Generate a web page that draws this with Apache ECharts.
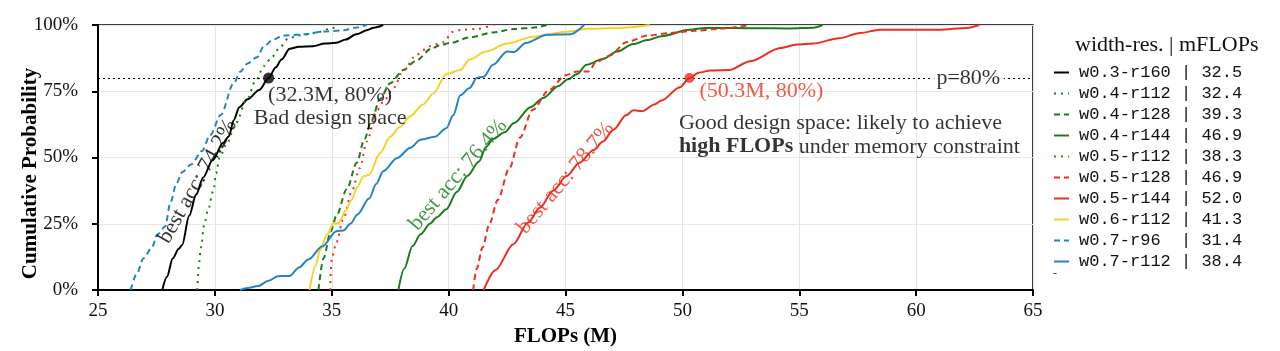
<!DOCTYPE html>
<html>
<head>
<meta charset="utf-8">
<script src="https://cdn.jsdelivr.net/npm/echarts@6/dist/echarts.min.js"></script>
<style>
  html, body { margin: 0; padding: 0; background: #fff; }
  #chart { width: 1280px; height: 351px; }
</style>
</head>
<body>
<div id="chart"></div>
<script>
// legend entries: name + mFLOPs
var names  = ['w0.3-r160', 'w0.4-r112', 'w0.4-r128', 'w0.4-r144', 'w0.5-r112',
              'w0.5-r128', 'w0.5-r144', 'w0.6-r112', 'w0.7-r96', 'w0.7-r112'];
var mflops = ['32.5', '32.4', '39.3', '46.9', '38.3', '46.9', '52.0', '41.3', '31.4', '38.4'];
var colors = ['#000000', '#1a7d1a', '#1a7d1a', '#1a7d1a', '#ec2f1e',
              '#ec2f1e', '#ec2f1e', '#f6d129', '#2284c6', '#2284c6'];
var dash = 'dashed', dot = 'dotted', solid = 'solid';
var styles = [solid, dot, dash, solid, dot, dash, solid, solid, dash, solid];

var xTicks = [25, 30, 35, 40, 45, 50, 55, 60, 65];
var yTicks = [0, 25, 50, 75, 100];

// CDF curves [FLOPs (M), cumulative %]
var w03r160 = [[27.75,0],[27.95,5],[28.2,12],[28.45,15.5],[28.6,17],[28.9,28],[29.2,36],[29.5,42.5],[29.9,49],
  [30.35,55.5],[30.6,58],[30.8,64],[31.05,69],[31.4,72],[31.9,75.5],[32.3,80],[32.6,84],[32.85,87],[33.2,91],
  [33.6,91.8],[34.2,92],[34.7,93],[35.2,93.3],[35.6,94.5],[36.05,96.5],[36.5,98],[36.8,99],[37.2,100]];
var w04r112 = [[29.25,0],[29.32,10],[29.4,16],[29.55,25],[29.7,30],[29.95,38],[30.05,44],[30.2,50],[30.5,55],
  [30.9,63],[31.35,71.5],[31.75,79],[32.1,84.5],[32.45,88],[32.8,91.8],[33.15,95],[33.6,96],[34.3,97],[34.9,98.5],[35.3,100]];
var w04r128 = [[34.43,0],[34.65,12],[34.95,22],[35.2,28],[35.64,38],[36.07,48],[36.4,57],[36.7,64],[37.06,72],
  [37.5,78],[38.06,83],[38.6,86.5],[39.25,91],[39.6,92.3],[40.06,93.2],[40.9,95.3],[41.9,97.2],[42.8,98.5],[43.6,99],[44.2,100]];
var w04r144 = [[37.85,0],[38.1,8],[38.45,16.5],[38.8,21],[39.2,25],[39.5,27.5],[39.9,30.5],[40.35,37],[40.8,43],
  [41.3,48.5],[41.6,54],[41.9,57],[42.4,59.5],[42.8,63],[43.5,69],[44.05,72.5],[44.7,77],[45.1,79.5],[45.5,81.5],
  [45.9,85],[46.6,87.2],[47.2,90],[47.9,92.8],[48.5,94.3],[49.1,95.8],[50.3,98.2],[51.0,98.9],[53.0,98.8],
  [54.6,98.7],[55.6,99],[56.0,100]];
var w05r112 = [[34.93,0],[35.0,12],[35.2,18],[35.5,27],[35.85,37],[36.2,46],[36.5,56],[36.92,67.5],[37.2,71],
  [37.63,76],[38.06,83],[38.63,88.8],[39.2,92],[39.77,93.5],[40.2,97.5],[40.6,98.3],[41.2,98.5],[41.9,100]];
var w05r128 = [[41.05,0],[41.2,8],[41.45,16],[41.75,25],[42.1,34],[42.6,46],[43.05,57.5],[43.6,68],[44.3,75.5],
  [45.0,81],[45.5,82.5],[46.0,82.5],[46.3,86],[46.9,88.5],[47.6,93.5],[48.5,96],[49.5,97],[50.5,97.8],[51.5,98.5],[52.9,100]];
var w05r144 = [[41.5,0],[42.0,7.5],[42.77,17.3],[43.4,25.5],[43.9,31],[44.47,37.5],[45.05,43],[45.6,48],[46.2,52.8],
  [46.6,56],[47.05,60.5],[47.6,66],[47.9,67.8],[48.3,67.5],[48.8,70],[49.1,71.5],[49.9,76.5],[50.3,80],[50.7,82],
  [51.2,82.8],[52.0,83],[52.9,86.3],[54.2,91.3],[54.9,92.6],[55.6,93],[56.7,95],[57.6,97],[58.45,98.2],[61.0,98.2],
  [62.16,98.9],[62.7,100]];
var w06r112 = [[34.05,0],[34.3,9],[34.5,15],[34.8,21],[35.07,25],[35.3,25.3],[35.6,30],[35.85,34],[36.1,39],
  [36.35,42.8],[36.6,43.5],[37.06,51.6],[37.5,57.8],[37.9,61.5],[38.35,65.5],[38.9,70],[39.35,74.2],[39.9,81.5],
  [40.5,83],[40.9,87],[41.6,90],[42.5,93],[43.6,95.6],[45.05,97.5],[46.0,98.6],[47.5,99],[48.6,100]];
var w07r96 = [[26.4,0],[26.65,6],[26.95,12],[27.3,16],[27.55,21],[27.87,24],[28.1,33],[28.35,40],[28.6,44.5],
  [29.0,47.5],[29.45,52.5],[29.8,58.5],[30.25,66],[30.8,78],[31.1,82.5],[31.4,85.5],[31.8,87.8],[32.1,92],
  [32.5,94.5],[32.9,96],[33.8,96.5],[34.6,97.5],[35.5,98],[36.0,99],[36.5,100]];
var w07r112 = [[31.07,0],[31.4,0.8],[31.85,1.5],[32.3,3.5],[32.7,5.2],[33.2,5.3],[33.6,8.5],[34.0,11.5],[34.6,16.5],
  [35.2,22.2],[35.5,22.5],[35.8,25],[36.1,28.5],[36.6,34.5],[36.9,40],[37.2,44.8],[37.8,49.8],[38.35,53.6],
  [38.8,56.7],[39.4,57.8],[39.9,61],[40.2,66],[40.5,73.5],[40.9,76.2],[41.2,80],[41.5,80.5],[41.9,85],[42.5,90],
  [42.8,89.8],[43.3,93.2],[44.2,96.3],[45.2,96.5],[45.8,100]];
var curves = [w03r160, w04r112, w04r128, w04r144, w05r112, w05r128, w05r144, w06r112, w07r96, w07r112];

// annotations
var pLine = 80;
var badPoint = [32.3, 80];
var goodPoint = [50.3, 80];
var pLabelAt = [62.23, 80];
var accAnchors = [[29.26, 41], [40.41, 43.5], [45.01, 42.3]];
var accTexts = ['best acc: 74.2%', 'best acc: 76.4%', 'best acc: 78.7%'];
var accAngles = [60.5, 49.5, 50];
var accColors = ['#000000', '#1a7d1a', '#ec2f1e'];

var serif = 'Liberation Serif';
var chart = echarts.init(document.getElementById('chart'));

function dashOf(s) {
  if (s === dash) return [6, 4];
  if (s === dot) return [2, 5];
  return 'solid';
}

var series = names.map(function (n, i) {
  return {
    name: n,
    type: 'line',
    data: curves[i],
    symbol: 'none',
    smooth: 0.3,
    smoothMonotone: 'x',
    z: 3,
    itemStyle: { color: colors[i] },
    lineStyle: { color: colors[i], width: 2, type: dashOf(styles[i]) }
  };
});

// p=80% dotted reference line
series[0].markLine = {
  silent: true,
  symbol: 'none',
  label: { show: false },
  lineStyle: { color: '#000', width: 1.2, type: [2, 3] },
  data: [{ yAxis: pLine }]
};

series.push({
  type: 'scatter', z: 5, silent: true,
  data: [pLabelAt],
  symbolSize: 1,
  itemStyle: { color: 'transparent' },
  label: {
    show: true, position: 'inside', formatter: 'p=80%',
    fontFamily: serif, fontSize: 22, color: '#000',
    backgroundColor: '#fff', padding: [0, 4]
  }
});

series.push({
  type: 'scatter', z: 6, silent: true,
  data: [badPoint],
  symbolSize: 11,
  itemStyle: { color: '#000' },
  label: {
    show: true, position: [67, 34], align: 'center', verticalAlign: 'middle',
    formatter: '(32.3M, 80%)\nBad design space',
    fontFamily: serif, fontSize: 22, lineHeight: 23, color: '#000'
  }
});

series.push({
  type: 'scatter', z: 6, silent: true,
  data: [goodPoint],
  symbolSize: 10,
  itemStyle: { color: '#ec2f1e' },
  label: {
    show: true, position: [15, 18], align: 'left', verticalAlign: 'middle',
    formatter: '(50.3M, 80%)',
    fontFamily: serif, fontSize: 22, color: '#ec2f1e'
  }
});

series.push({
  type: 'scatter', z: 6, silent: true,
  data: [goodPoint],
  symbolSize: 1,
  itemStyle: { color: 'transparent' },
  label: {
    show: true, position: [-10, 34], align: 'left', verticalAlign: 'top',
    formatter: '{n|Good design space: likely to achieve}\n{b|high FLOPs}{n| under memory constraint}',
    rich: {
      n: { fontFamily: serif, fontSize: 22, lineHeight: 23.5, color: '#000' },
      b: { fontFamily: serif, fontSize: 22, lineHeight: 23.5, color: '#000', fontWeight: 'bold' }
    }
  }
});

series.push({
  type: 'scatter', z: 6, silent: true,
  symbolSize: 1,
  itemStyle: { color: 'transparent' },
  data: accAnchors.map(function (p, i) {
    return {
      value: p,
      label: { formatter: accTexts[i], rotate: accAngles[i], color: accColors[i] }
    };
  }),
  label: { show: true, position: 'inside', fontFamily: serif, fontSize: 22 }
});

var option = {
  animation: false,
  backgroundColor: '#fff',
  title: [{
    text: 'width-res. | mFLOPs',
    left: 1075, top: 34, padding: 0,
    textStyle: { fontFamily: serif, fontSize: 22, fontWeight: 'normal', color: '#111' }
  }, {
    text: '-',
    left: 1053, top: 268, padding: 0,
    textStyle: { fontFamily: serif, fontSize: 12, fontWeight: 'normal', color: '#333' }
  }],
  legend: {
    orient: 'vertical',
    left: 1053, top: 62, padding: 0,
    itemWidth: 15, itemHeight: 14, itemGap: 0,
    itemStyle: { opacity: 0 },
    data: names,
    formatter: function (n) {
      var i = names.indexOf(n);
      var s = n;
      while (s.length < 9) s += ' ';
      return s + ' | ' + mflops[i];
    },
    textStyle: { fontFamily: 'Liberation Mono', fontSize: 17, color: '#111', lineHeight: 21, padding: [0, 0, 0, 5] }
  },
  grid: {
    left: 98, right: 247, top: 25, bottom: 61,
    outerBoundsMode: 'none',
    show: true, borderColor: '#000', borderWidth: 1.5
  },
  xAxis: {
    type: 'value',
    min: xTicks[0], max: xTicks[xTicks.length - 1], interval: 5,
    name: 'FLOPs (M)', nameLocation: 'middle', nameGap: 33,
    nameTextStyle: { fontFamily: serif, fontSize: 21, fontWeight: 'bold', color: '#000' },
    axisLine: { lineStyle: { color: '#000', width: 2 } },
    axisTick: { show: true, length: 6, lineStyle: { color: '#000', width: 2 } },
    axisLabel: { margin: 12, fontFamily: serif, fontSize: 19, color: '#111' },
    splitLine: { show: true, lineStyle: { color: '#e6e6e6', width: 1 } }
  },
  yAxis: {
    type: 'value',
    min: yTicks[0], max: yTicks[yTicks.length - 1], interval: 25,
    name: 'Cumulative Probability', nameLocation: 'middle', nameGap: 57,
    nameMoveOverlap: false,
    nameTextStyle: { fontFamily: serif, fontSize: 21, fontWeight: 'bold', color: '#000', padding: [0, 32, 0, 0] },
    axisLine: { show: true, lineStyle: { color: '#000', width: 2 } },
    axisTick: { show: true, length: 6, lineStyle: { color: '#000', width: 2 } },
    axisLabel: { margin: 20, fontFamily: serif, fontSize: 19, color: '#111', formatter: '{value}%' },
    splitLine: { show: true, lineStyle: { color: '#e6e6e6', width: 1 } }
  },
  series: series
};

chart.setOption(option);
</script>
</body>
</html>
